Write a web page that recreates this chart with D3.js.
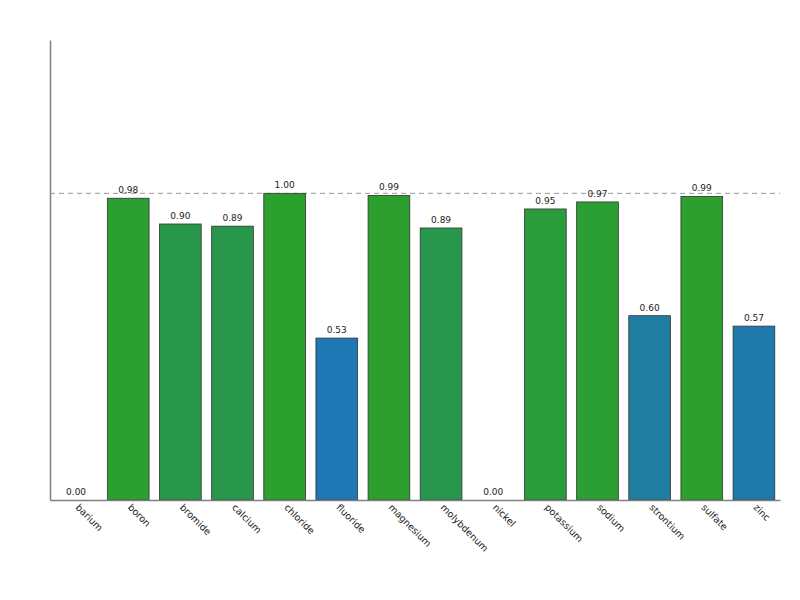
<!DOCTYPE html>
<html>
<head>
<meta charset="utf-8">
<script src="https://cdn.jsdelivr.net/npm/d3@7"></script>
<style>
  html, body { margin: 0; padding: 0; background: #fff; }
  svg { display: block; font-family: "DejaVu Sans", sans-serif; }
</style>
</head>
<body>
<svg id="chart" width="800" height="600"></svg>
<script>
// Bar chart of per-ion scores, one bar per element

const categories = ['barium', 'boron', 'bromide', 'calcium', 'chloride', 'fluoride', 'magnesium',
    'molybdenum', 'nickel', 'potassium', 'sodium', 'strontium', 'sulfate', 'zinc'];
const values = [0, 0.984, 0.90, 0.893, 1.0, 0.528, 0.993, 0.887, 0, 0.949, 0.972, 0.601, 0.99, 0.567];
const referenceLine = 1.0;
const yDomain = [0, 1.5];

const svg = d3.select('#chart');

// --- Layout ---
const MARGIN = { top: 40, right: 20, bottom: 100, left: 50 };
const WIDTH = 800 - MARGIN.left - MARGIN.right;
const HEIGHT = 600 - MARGIN.top - MARGIN.bottom;

const data = categories.map((c, i) => ({ name: c, value: values[i] }));

// --- Scales ---
const x = d3.scaleBand()
    .domain(categories)
    .range([0, WIDTH])
    .paddingInner(0.2)
    .paddingOuter(0.1);

const y = d3.scaleLinear()
    .domain(yDomain)
    .range([HEIGHT, 0]);

// blue for low scores, green for high ones
const color = d3.scaleLinear()
    .domain([0.53, 1.0])
    .range(['#1f77b4', '#2ca02c'])
    .clamp(true);

const g = svg.append('g')
    .attr('transform', `translate(${MARGIN.left},${MARGIN.top})`);

// Reference line
g.append('line')
    .attr('x1', 0)
    .attr('x2', WIDTH)
    .attr('y1', y(referenceLine))
    .attr('y2', y(referenceLine))
    .attr('stroke', '#999')
    .attr('stroke-width', 1)
    .attr('stroke-dasharray', '5,4');

// Bars
g.selectAll('rect.bar')
    .data(data)
    .join('rect')
    .attr('class', 'bar')
    .attr('x', d => x(d.name))
    .attr('y', d => y(d.value))
    .attr('width', x.bandwidth())
    .attr('height', d => HEIGHT - y(d.value))
    .attr('fill', d => color(d.value))
    .attr('stroke', '#333')
    .attr('stroke-width', 0.8);

// Value labels
g.selectAll('text.value')
    .data(data)
    .join('text')
    .attr('class', 'value')
    .attr('x', d => x(d.name) + x.bandwidth() / 2)
    .attr('y', d => y(d.value) - 5)
    .attr('text-anchor', 'middle')
    .style('font-size', '9px')
    .style('fill', '#222')
    .text(d => d.value.toFixed(2));

// Axes
const xAxis = g.append('g')
    .attr('transform', `translate(0,${HEIGHT})`)
    .call(d3.axisBottom(x).tickSize(0).tickPadding(0));
xAxis.select('.domain').attr('stroke', '#808080').attr('stroke-width', 1.5);
xAxis.selectAll('.tick text')
    .attr('text-anchor', 'start')
    .attr('dy', 0)
    .attr('transform', 'translate(-1,8) rotate(45)')
    .style('font-family', '"DejaVu Sans", sans-serif')
    .style('font-size', '9.5px')
    .style('fill', '#222');

const yAxis = g.append('g')
    .call(d3.axisLeft(y).tickValues([]).tickSize(0));
yAxis.select('.domain').attr('stroke', '#808080').attr('stroke-width', 1.5);
</script>
</body>
</html>
